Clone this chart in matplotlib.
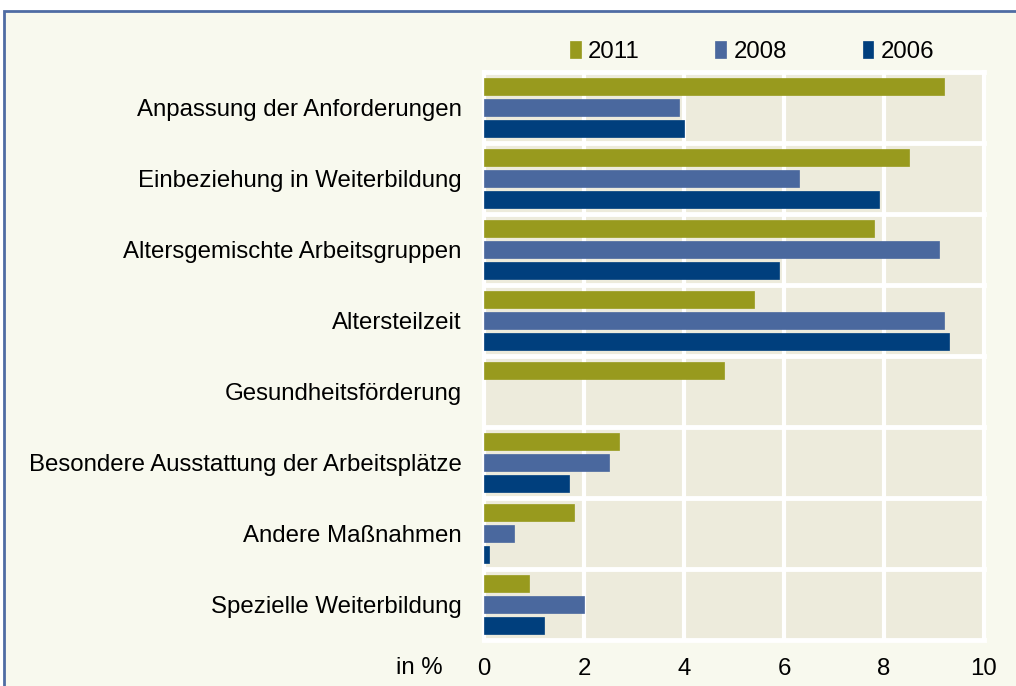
import matplotlib.pyplot as plt
from matplotlib.patches import Rectangle
import numpy as np

categories = [
    "Anpassung der Anforderungen",
    "Einbeziehung in Weiterbildung",
    "Altersgemischte Arbeitsgruppen",
    "Altersteilzeit",
    "Gesundheitsförderung",
    "Besondere Ausstattung der Arbeitsplätze",
    "Andere Maßnahmen",
    "Spezielle Weiterbildung",
]
years = ["2011", "2008", "2006"]
values_2011 = [9.2, 8.5, 7.8, 5.4, 4.8, 2.7, 1.8, 0.9]
values_2008 = [3.9, 6.3, 9.1, 9.2, np.nan, 2.5, 0.6, 2.0]
values_2006 = [4.0, 7.9, 5.9, 9.3, np.nan, 1.7, 0.1, 1.2]
colors = ["#989a1e", "#4a689e", "#003f7d"]
x_ticks = [0, 2, 4, 6, 8, 10]

plt.rcParams["font.family"] = ["Liberation Sans", "DejaVu Sans"]
FS = 17.3

W, H = 1016, 686
fig = plt.figure(figsize=(W / 100, H / 100), dpi=100)
fig.patch.set_facecolor("white")

# panel frame
fig.patches.append(Rectangle((4 / W, -0.05), 1.1, 1 - 11 / H + 0.05,
                             transform=fig.transFigure, facecolor="#f8f9ee",
                             edgecolor="#4f6ca3", linewidth=2, zorder=-5))

ax = fig.add_axes([484 / W, 1 - 640 / H, 500 / W, 568 / H])
ax.set_facecolor("#edebdc")
for s in ax.spines.values():
    s.set_visible(False)

y = np.arange(len(categories))
bar_h = 0.24
offset = 0.30
for vals, yr, col, off in zip([values_2011, values_2008, values_2006], years, colors,
                              [-offset, 0, offset]):
    ax.barh(y + off, vals, height=bar_h, color=col, label=yr, zorder=3,
            edgecolor=col, linewidth=0.5)

ax.set_xlim(0, 10)
ax.set_ylim(len(categories) - 0.5, -0.5)

for xv in x_ticks:
    ax.axvline(xv, color="white", linewidth=3, zorder=1, clip_on=False)
for k in range(len(categories) + 1):
    ax.axhline(k - 0.5, color="white", linewidth=3.5, zorder=1, clip_on=False)

ax.set_yticks(y)
ax.set_yticklabels(categories, fontsize=FS)
ax.set_xticks(x_ticks)
ax.set_xticklabels([str(v) for v in x_ticks], fontsize=FS)
ax.tick_params(axis="both", length=0)
ax.tick_params(axis="y", pad=16)
ax.tick_params(axis="x", pad=13)

fig.text(443 / W, 1 - 668 / H, "in %", ha="right", va="center", fontsize=FS)

ax.legend(loc="center left", bbox_to_anchor=(570 / W, 1 - 52 / H), bbox_transform=fig.transFigure,
          ncol=3, frameon=False, fontsize=FS, handlelength=0.45, handleheight=0.7,
          handletextpad=0.3, columnspacing=3.15, borderaxespad=0, borderpad=0)

fig.savefig("out.png", dpi=100, facecolor=fig.get_facecolor())
